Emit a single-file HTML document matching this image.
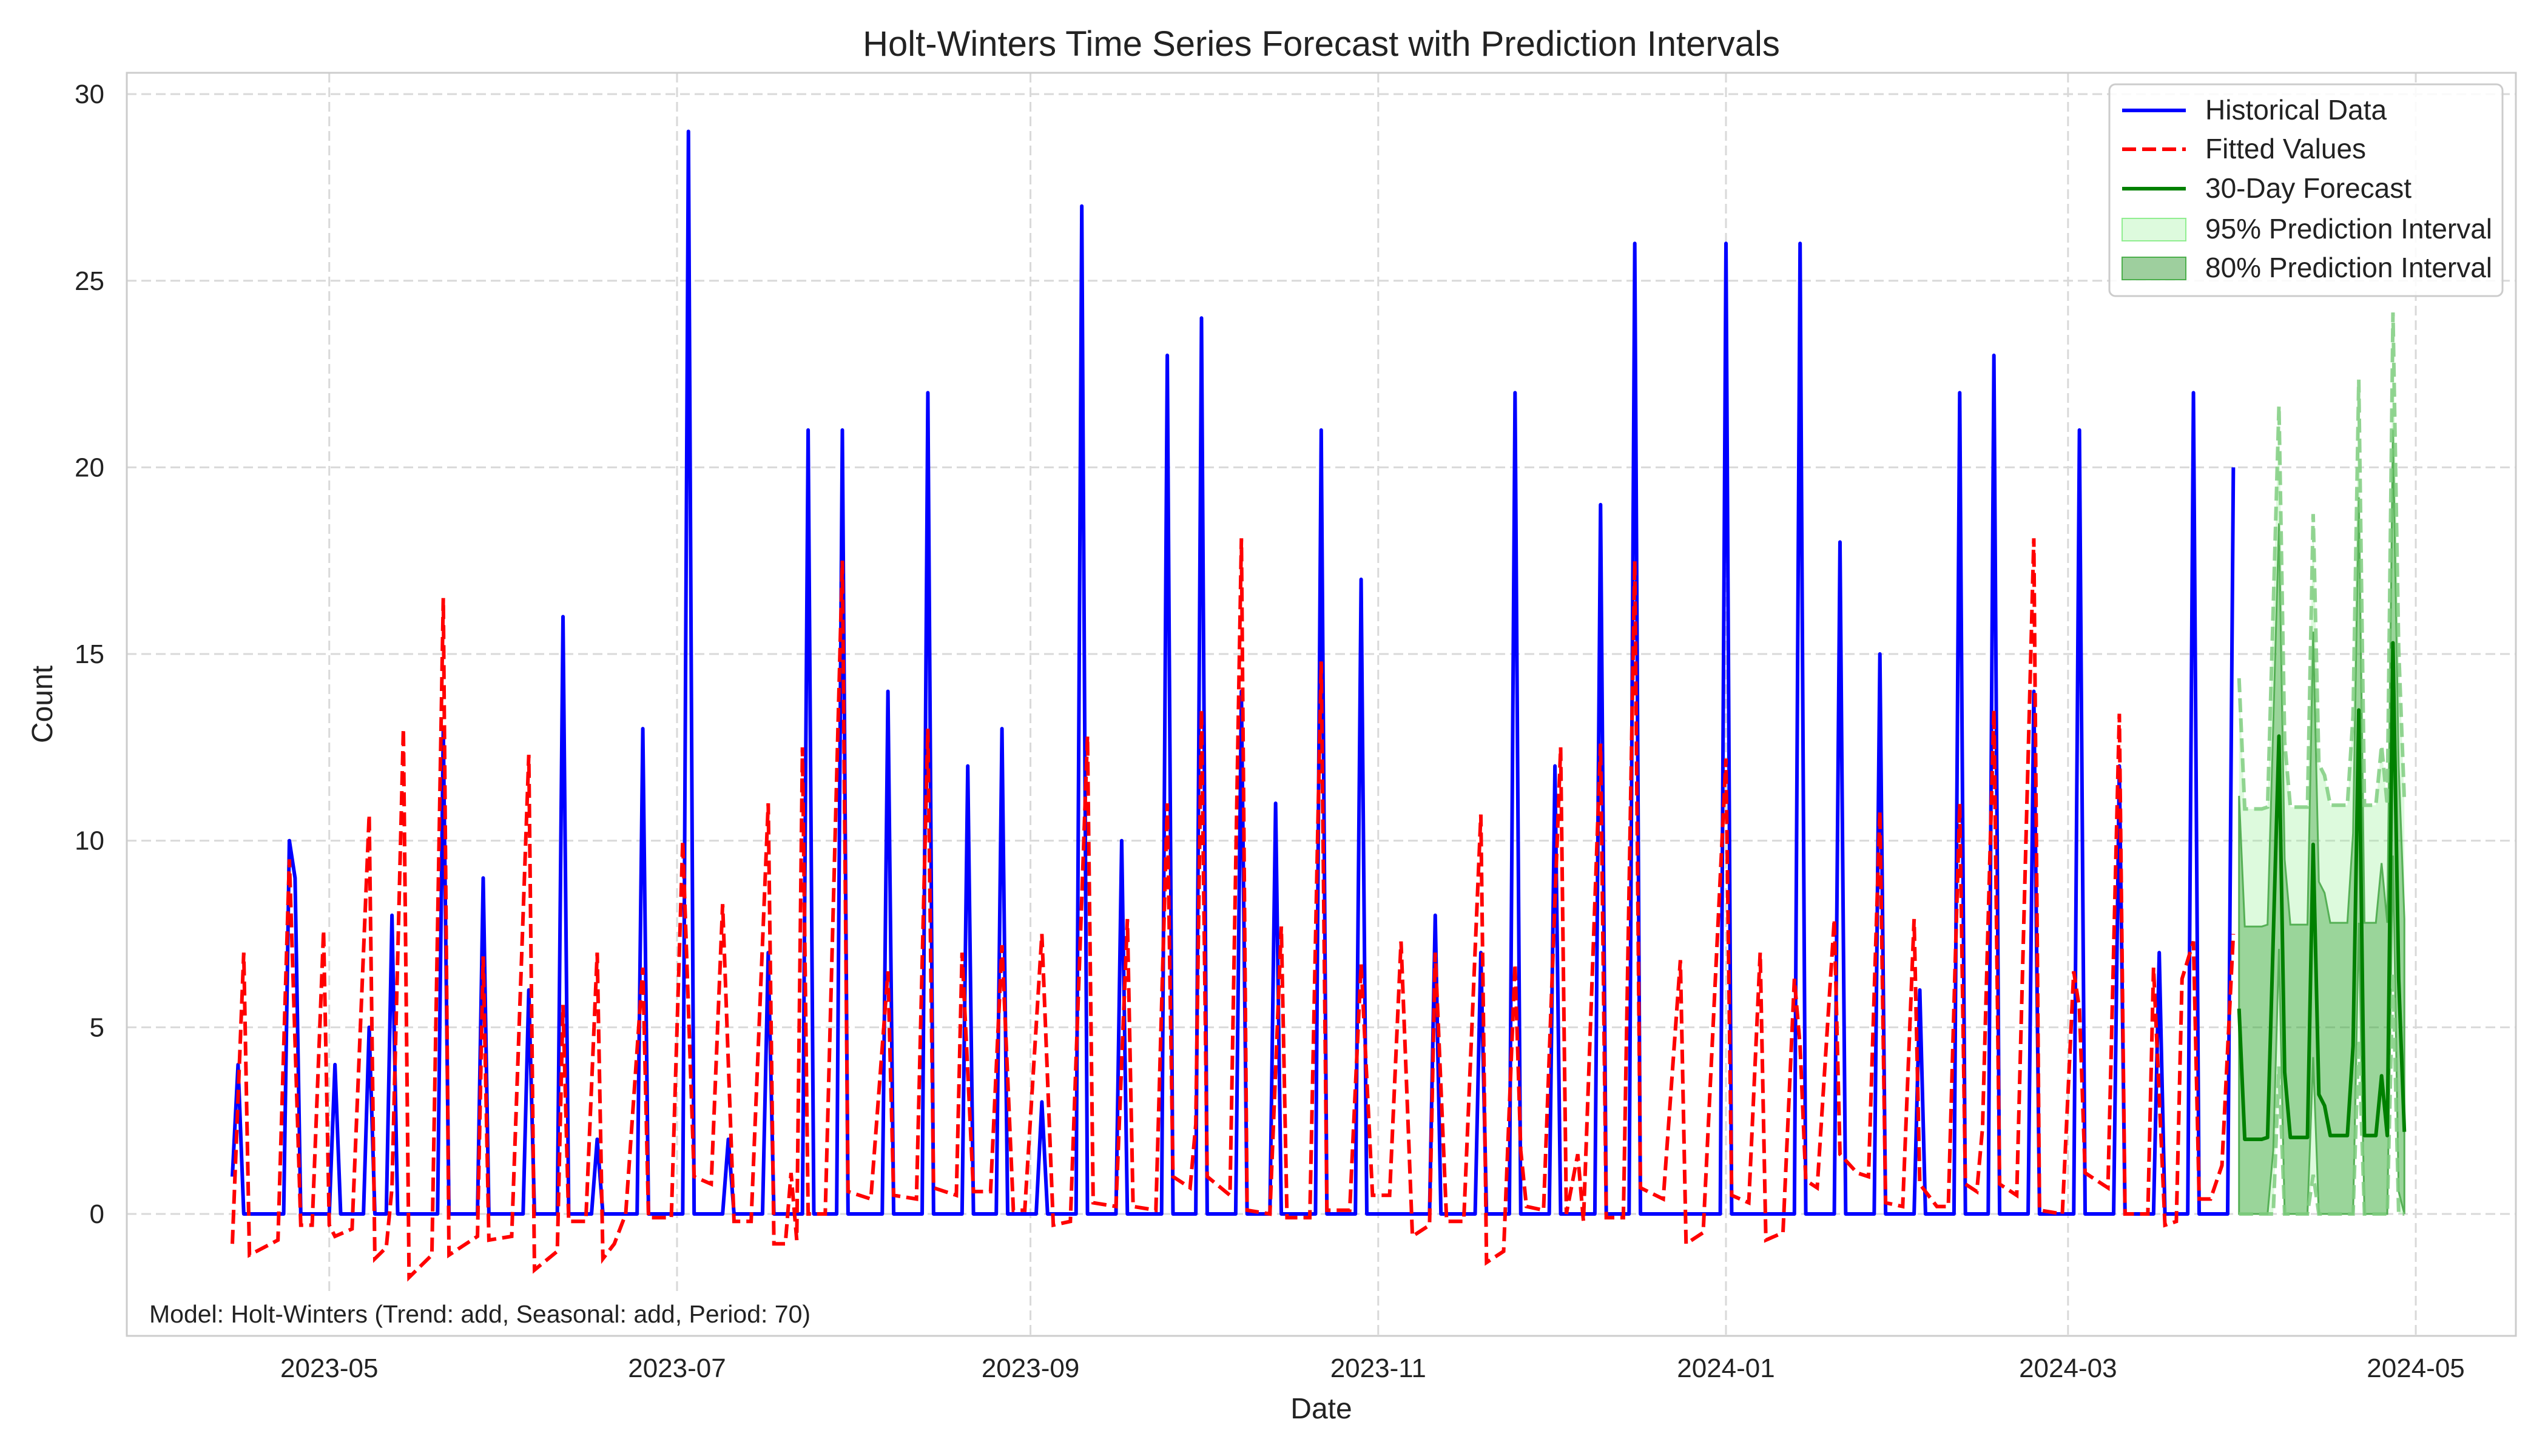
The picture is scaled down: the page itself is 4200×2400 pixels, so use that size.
<!DOCTYPE html>
<html><head><meta charset="utf-8"><style>
html,body{margin:0;padding:0;background:#fff;}
svg{display:block;font-family:"Liberation Sans",Arial,sans-serif;}
</style></head><body>
<svg id="chart" width="4200" height="2400" viewBox="0 0 4200 2400" xmlns="http://www.w3.org/2000/svg">
<rect x="0" y="0" width="4200" height="2400" fill="#fff"/>
<text x="2178" y="92" font-size="58" text-anchor="middle" fill="#222">Holt-Winters Time Series Forecast with Prediction Intervals</text>
<g id="grid"></g>
<g id="ticks"></g>
<g id="series"></g>
<rect x="209" y="120" width="3938" height="2082" fill="none" stroke="#cccccc" stroke-width="3"/>
<rect x="212" y="2128" width="1160" height="72" fill="#fff"/>
<text x="246" y="2180" font-size="41" fill="#222">Model: Holt-Winters (Trend: add, Seasonal: add, Period: 70)</text>
<text x="2178" y="2338" font-size="48" text-anchor="middle" fill="#222">Date</text>
<text x="86" y="1161" font-size="48" text-anchor="middle" fill="#222" transform="rotate(-90 86 1161)">Count</text>
<g id="legend">
<rect x="3477" y="139" width="648" height="349" rx="10" fill="#fff" fill-opacity="0.85" stroke="#cccccc" stroke-width="3"/>
<line x1="3498" y1="182" x2="3603" y2="182" stroke="#0000ff" stroke-width="6"/>
<text x="3635" y="197" font-size="46" fill="#222">Historical Data</text>
<line x1="3498" y1="246" x2="3603" y2="246" stroke="#ff0000" stroke-width="6" stroke-dasharray="23,10"/>
<text x="3635" y="261" font-size="46" fill="#222">Fitted Values</text>
<line x1="3498" y1="311" x2="3603" y2="311" stroke="#008000" stroke-width="6"/>
<text x="3635" y="326" font-size="46" fill="#222">30-Day Forecast</text>
<rect x="3498" y="360" width="105" height="37" fill="#90ee90" fill-opacity="0.3" stroke="#90ee90" stroke-width="2"/>
<text x="3635" y="393" font-size="46" fill="#222">95% Prediction Interval</text>
<rect x="3498" y="424" width="105" height="37" fill="#008000" fill-opacity="0.38" stroke="#4caf4c" stroke-width="2"/>
<text x="3635" y="457" font-size="46" fill="#222">80% Prediction Interval</text>
</g>
</svg>
<script>
// ---- data ----
const xTickLabels = ["2023-05","2023-07","2023-09","2023-11","2024-01","2024-03","2024-05"];
const xTickDays = [17,78,140,201,262,322,383];
const yTickValues = [0,5,10,15,20,25,30];
const historyLength = 352;
const spikeDays = [0,1,10,11,18,24,28,37,44,52,58,64,72,80,87,94,101,107,115,122,129,135,142,149,156,164,170,177,183,191,198,211,219,225,232,240,246,262,275,282,289,296,303,309,316,324,331,338,344,351];
const spikeVals = [1,4,10,9,4,5,8,13,9,6,16,2,13,29,2,7,21,21,14,22,12,13,3,27,10,23,24,14,11,21,17,8,7,22,12,19,26,26,26,18,15,6,22,23,14,21,12,7,22,20];
const fitDays = [0,2,3,8,10,12,14,16,17,18,21,24,25,27,28,30,31,35,37,38,43,44,45,49,52,53,57,58,59,62,64,65,67,69,72,73,77,79,81,84,86,88,91,94,95,97,98,99,100,101,104,107,108,112,115,116,120,122,123,127,128,130,133,135,137,139,142,144,147,150,151,155,157,158,162,164,165,168,169,170,171,175,177,178,182,184,185,189,191,192,196,198,200,203,205,207,210,211,213,216,219,220,223,225,226,227,230,233,234,236,237,240,241,244,246,247,251,254,255,258,262,263,266,268,269,272,274,275,276,278,281,282,285,287,289,290,293,295,296,299,301,303,304,306,307,309,310,313,316,317,321,323,324,325,329,331,332,336,337,339,341,342,344,345,347,349,351];
const fitVals = [-0.8,7,-1.1,-0.7,9.5,-0.3,-0.3,7.6,-0.3,-0.6,-0.4,10.7,-1.2,-0.9,0.7,13,-1.7,-1.1,16.5,-1.1,-0.6,6.9,-0.7,-0.6,12.3,-1.5,-1,5.6,-0.2,-0.2,7,-1.2,-0.8,0,6.6,-0.1,-0.1,10,1,0.8,8.3,-0.2,-0.2,11,-0.8,-0.8,1.1,-0.7,12.5,0,0,17.5,0.6,0.4,6.5,0.5,0.4,13,0.7,0.5,7,0.6,0.6,7.2,0.1,0.1,7.5,-0.3,-0.2,12.8,0.3,0.2,7.9,0.2,0.1,11,1,0.7,2.4,13.5,1,0.5,18.1,0.1,0,7.7,-0.1,-0.1,14.8,0.1,0.1,6.7,0.5,0.5,7.3,-0.6,-0.3,7,-0.2,-0.2,10.7,-1.3,-1,6.7,1.7,0.2,0.1,12.5,0,1.6,-0.2,12.6,-0.1,-0.1,17.5,0.7,0.4,6.8,-0.8,-0.5,12.2,0.5,0.3,7,-0.7,-0.5,6.3,4.5,0.9,0.7,7.9,1.6,1.1,1,10.8,0.3,0.2,7.9,0.8,0.2,0.2,11,0.8,0.6,2.3,13.5,0.8,0.5,18.1,0.1,0,6.5,5.5,1.1,0.7,13.4,0,0,6.6,-0.3,-0.2,6.3,7.3,0.4,0.4,1.3,7.5];
const forecastStart = 352;
const forecastVals = [5.5,2.0,2.0,2.0,2.0,2.05,7.4,12.8,3.8,2.05,2.05,2.05,2.05,9.9,3.2,2.9,2.1,2.1,2.1,2.1,4.5,13.5,2.1,2.1,2.1,3.7,2.1,15.3,6.3,2.2];
const halfWidth80 = [5.7];
const halfWidth95 = [8.85];

// ---- scales ----
const X0 = 383, DX = 9.397, Y0 = 2001, DY = 61.53;
function xs(d){ return X0 + DX*d; }
function ys(v){ return Y0 - DY*v; }
const NS = "http://www.w3.org/2000/svg";
function mk(tag, attrs, parent){
  const el = document.createElementNS(NS, tag);
  for (const k in attrs) el.setAttribute(k, attrs[k]);
  parent.appendChild(el);
  return el;
}
const grid = document.getElementById('grid');
const ticks = document.getElementById('ticks');
const series = document.getElementById('series');

xTickDays.forEach((d,i)=>{
  const ln = mk('line',{x1:xs(d),x2:xs(d),y1:120,y2:2202,stroke:'#d9d9d9','stroke-width':3,'stroke-dasharray':'16,8'},grid);
  
  
  const t = mk('text',{x:xs(d),y:2270,'font-size':44,'text-anchor':'middle',fill:'#222'},ticks);
  t.textContent = xTickLabels[i];
  
  
});
yTickValues.forEach(v=>{
  const ln = mk('line',{x1:209,x2:4147,y1:ys(v),y2:ys(v),stroke:'#d9d9d9','stroke-width':3,'stroke-dasharray':'16,8'},grid);
  
  
  const t = mk('text',{x:172,y:ys(v)+15,'font-size':44,'text-anchor':'end',fill:'#222'},ticks);
  t.textContent = String(v);
  
  
});

// forecast bands
const fDays = forecastVals.map((v,i)=>forecastStart+i);
const up95 = forecastVals.map(v=>v+halfWidth95[0]);
const lo95 = forecastVals.map(v=>Math.max(0,v-halfWidth95[0]));
const up80 = forecastVals.map(v=>v+halfWidth80[0]);
const lo80 = forecastVals.map(v=>Math.max(0,v-halfWidth80[0]));
function band(up, lo){
  let p = fDays.map((d,i)=>(i?'L':'M')+xs(d)+','+ys(up[i])).join(' ');
  for (let i=fDays.length-1;i>=0;i--) p += ' L'+xs(fDays[i])+','+ys(lo[i]);
  return p+' Z';
}
function pl(days, vals){ return days.map((d,i)=>xs(d)+','+ys(vals[i])).join(' '); }
const b95 = mk('path',{d:band(up95,lo95),fill:'#90ee90','fill-opacity':0.3,stroke:'none'},series);


const b80 = mk('path',{d:band(up80,lo80),fill:'#008000','fill-opacity':0.3,stroke:'#55b055','stroke-width':3},series);


[up95, lo95].forEach(arr=>{
  const l = mk('polyline',{points:pl(fDays,arr),fill:'none',stroke:'#7fcc7f','stroke-width':6,'stroke-dasharray':'23,10','stroke-opacity':0.85},series);
  
  
});

// historical
const hDays = [], hVals = [];
for (let d=0; d<historyLength; d++){ hDays.push(d); const k = spikeDays.indexOf(d); hVals.push(k>=0?spikeVals[k]:0); }
const hist = mk('polyline',{points:pl(hDays,hVals),fill:'none',stroke:'#0000ff','stroke-width':6,'stroke-linejoin':'round'},series);


const fit = mk('polyline',{points:pl(fitDays,fitVals),fill:'none',stroke:'#ff0000','stroke-width':6,'stroke-dasharray':'23,10'},series);


const fc = mk('polyline',{points:pl(fDays,forecastVals),fill:'none',stroke:'#008000','stroke-width':6,'stroke-linejoin':'round'},series);


</script>
</body></html>
